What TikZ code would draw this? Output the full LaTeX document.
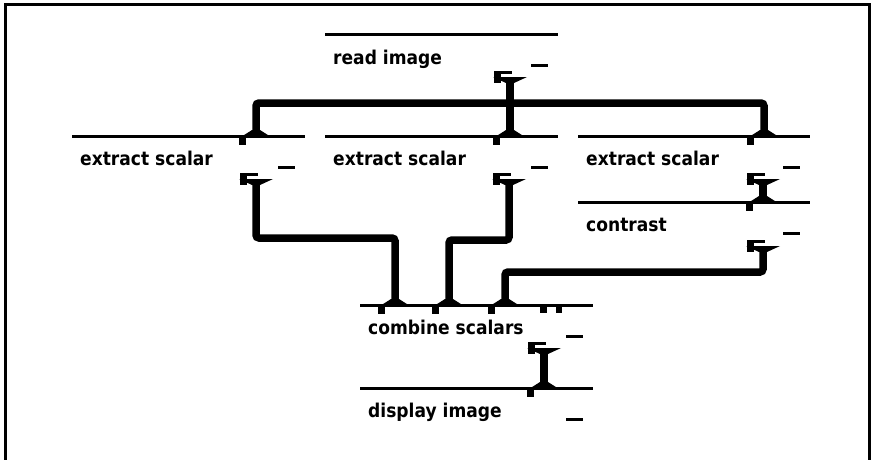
\documentclass[tikz,border=0pt]{standalone}
\usepackage{fontspec}
\setmainfont{DejaVu Sans}
\newfontfamily\titlefont[FakeStretch=0.9]{DejaVu Sans Bold}
\tikzset{
  modline/.style={line width=3pt},
  conn/.style={line width=7.5pt, rounded corners=3pt},
  modtitle/.style={inner sep=0pt, font=\titlefont\fontsize{19}{21}\selectfont},
}
\newcommand\vmod[5]{% name, left, top, right, title
  \draw[modline] (#2,#3) -- (#4,#3);
  \node[modtitle, anchor=base west] (#1) at (#2+8,#3+29.5) {#5};
  \fill (#4-27,#3+30) rectangle (#4-10,#3+33);
}
\newcommand\inport[3]{% name, x, top
  \coordinate (#1) at (#2,#3);
  \fill (#2-15,#3+1) -- (#2+15,#3+1) -- (#2+4,#3-6) -- (#2-4,#3-6) -- cycle;
  \fill (#2-17,#3) rectangle (#2-10,#3+9);
}
\newcommand\outport[3]{% name, x, y0
  \fill (#2-16,#3) rectangle (#2-9,#3+12);
  \fill (#2-16,#3) rectangle (#2+2,#3+3);
  \fill (#2-17,#3+6) -- (#2+17,#3+6) -- (#2+4,#3+12) -- (#2-4,#3+12) -- cycle;
  \coordinate (#1) at (#2,#3+10);
}
\begin{document}
\begin{tikzpicture}[x=1pt,y=-1pt]
\useasboundingbox (0,0) rectangle (875,460);
% frame
\draw[line width=2.5pt] (5.5,460) -- (5.5,4.5) -- (869.5,4.5) -- (869.5,460);
% modules
\vmod{read}{325}{34.5}{558}{read image}
\vmod{ex1}{72}{136}{305}{extract scalar}
\vmod{ex2}{325}{136}{558}{extract scalar}
\vmod{ex3}{578}{136}{810}{extract scalar}
\vmod{con}{578}{202}{810}{contrast}
\vmod{comb}{360}{305}{593}{combine scalars}
\vmod{disp}{360}{388}{593}{display image}
% ports
\outport{read-out}{510}{71}
\inport{ex1-in}{256}{136}
\inport{ex2-in}{510}{136}
\inport{ex3-in}{764}{136}
\outport{ex1-out}{256}{173}
\outport{ex2-out}{509}{173}
\outport{ex3-out}{763}{173}
\inport{con-in}{763}{202}
\outport{con-out}{763}{240}
\inport{comb-in1}{395}{305}
\inport{comb-in2}{449}{305}
\inport{comb-in3}{505}{305}
\fill (540,305) rectangle (547,313);
\fill (556,305) rectangle (562,313);
\outport{comb-out}{544}{342}
\inport{disp-in}{544}{388}
% helper coordinates
\coordinate (bus) at (510,103);
\coordinate (h1) at (320,238);
\coordinate (h2) at (480,240);
\coordinate (h3) at (620,272);
% connectors
\draw[conn] (ex1-in) |- (bus) -| (ex3-in);
\draw[conn] (read-out) -- (ex2-in);
\draw[conn] (ex1-out) |- (h1) -| (comb-in1);
\draw[conn] (ex2-out) |- (h2) -| (comb-in2);
\draw[conn] (ex3-out) -- (con-in);
\draw[conn] (con-out) |- (h3) -| (comb-in3);
\draw[conn] (comb-out) -- (disp-in);
\end{tikzpicture}
\end{document}
